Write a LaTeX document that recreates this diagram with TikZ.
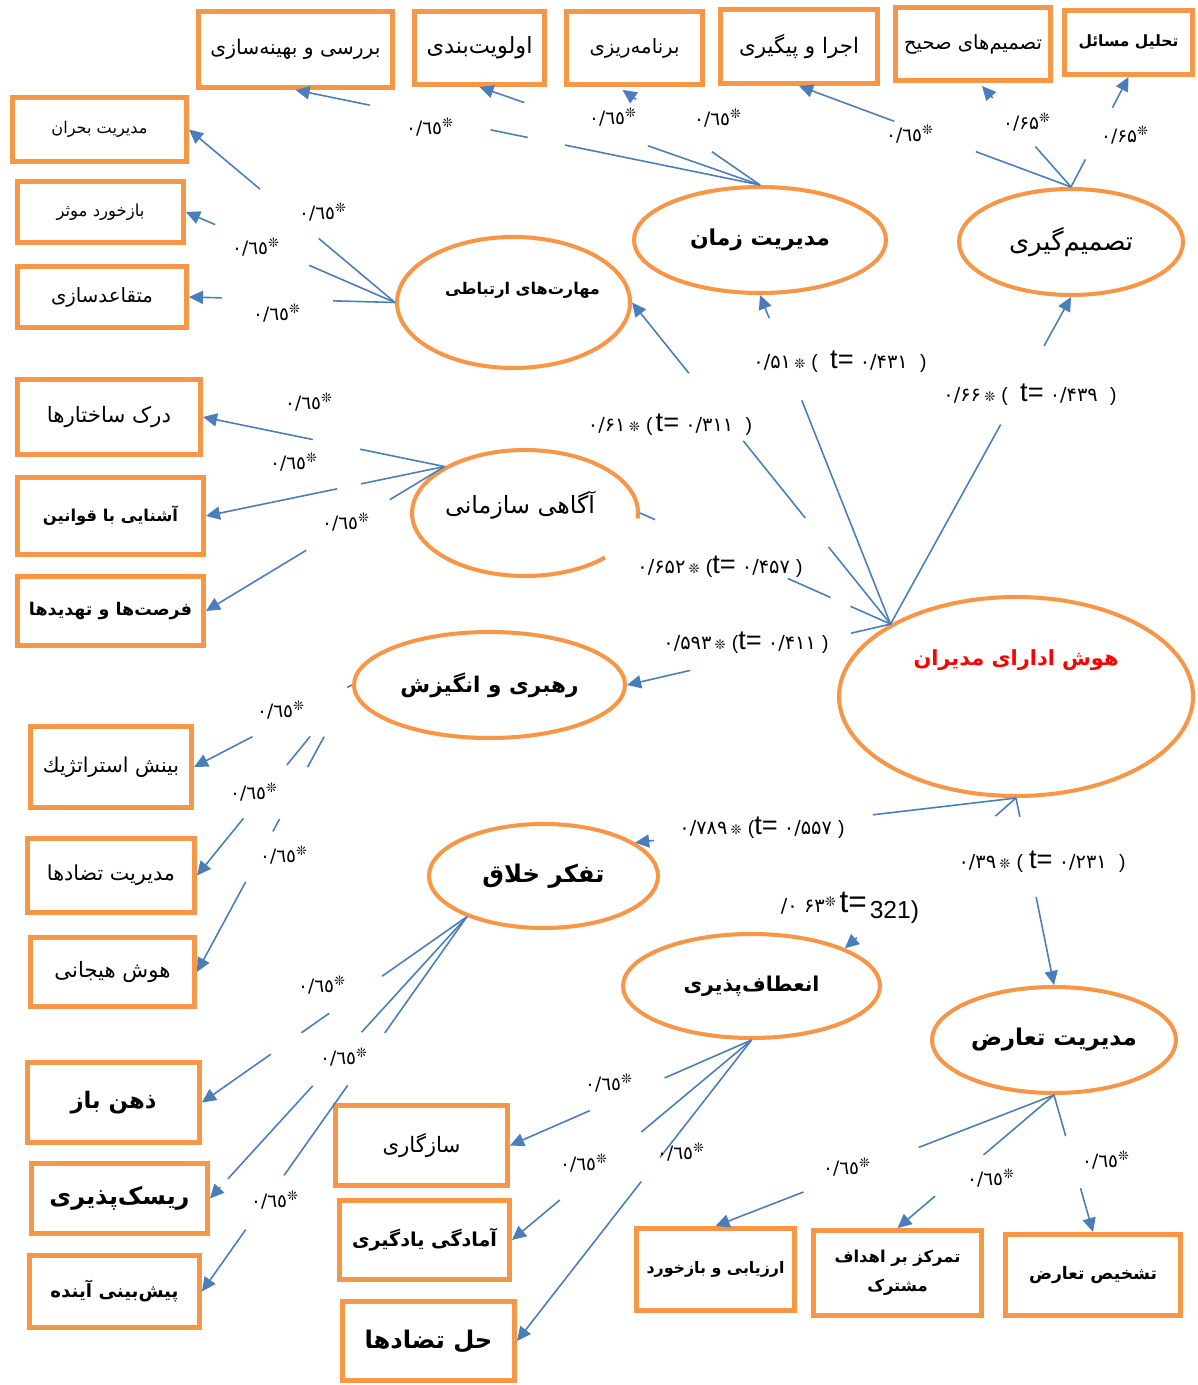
\documentclass[tikz,border=0pt]{standalone}
\usepackage{fontspec}
\usepackage{graphicx}
\usetikzlibrary{shapes.geometric,arrows.meta,calc}
\TeXXeTstate=1
\newfontfamily\arabicfont[Script=Arabic]{DejaVu Sans}
\newfontfamily\latinsans{Liberation Sans}
\definecolor{orng}{RGB}{247,150,70}
\definecolor{lblue}{RGB}{74,126,187}
\newlength\px
\setlength\px{0.02cm}
\newcommand\Fw[2]{\resizebox{#1\px}{!}{\arabicfont\beginR #2\endR}}
\newcommand\Fwb[2]{\resizebox{#1\px}{!}{\arabicfont\bfseries\beginR #2\endR}}
\newcommand\ld[1]{{\arabicfont\fontsize{10.5}{12}\selectfont #1\textsuperscript{❊}}}
\newcommand\dg{\arabicfont\fontsize{11}{12}\selectfont}
\newcommand\Tq{{\latinsans\fontsize{15.5}{16}\selectfont t=}}
\newcommand\Sx{{\arabicfont\fontsize{7.5}{8}\selectfont ❊}}
\newcommand\Lp{{\latinsans\fontsize{11}{12}\selectfont(}}
\newcommand\Rp{{\latinsans\fontsize{11}{12}\selectfont)}}
\newcommand\seg[4]{\draw[ln] ($(#1)!#3!(#2)$) -- ($(#1)!#4!(#2)$);}
\newcommand\aseg[3]{\draw[arr] ($(#1)!#3!(#2)$) -- (#2);}
\begin{document}
\begin{tikzpicture}[x=0.02cm,y=-0.02cm,
 box/.style={draw=orng,line width=2.8pt,inner sep=0pt,rectangle},
 ell/.style={draw=orng,line width=2.3pt,inner sep=0pt,ellipse},
 ln/.style={draw=lblue,line width=0.9pt},
 arr/.style={ln,-{Triangle[length=8pt,width=7.5pt]}},
 lab/.style={inner sep=0pt}]
\fill[white] (0,0) rectangle (1197,1385);
\useasboundingbox (0,0) rectangle (1197,1385);
% top boxes
\node[box,minimum width=194\px,minimum height=76\px] (b1) at (295.5,49.5) {\Fw{170}{بررسی و بهینه^^^^200cسازی}};
\node[box,minimum width=130\px,minimum height=73\px] (b2) at (479.5,48) {\Fw{106}{اولویت^^^^200cبندی}};
\node[box,minimum width=136\px,minimum height=73\px] (b3) at (634.5,48) {\Fw{90}{برنامه^^^^200cریزی}};
\node[box,minimum width=157\px,minimum height=74\px] (b4) at (799,46.5) {\Fw{120}{اجرا و پیگیری}};
\node[box,minimum width=155\px,minimum height=73\px] (b5) at (973,44) {\Fw{138}{تصمیم^^^^200cهای صحیح}};
\node[box,minimum width=128\px,minimum height=64\px] (b6) at (1128.5,42.5) {\Fwb{100}{تحلیل مسائل}};
% left boxes
\node[box,minimum width=174\px,minimum height=64\px] (l1) at (99.5,129.5) {\Fw{96}{مدیریت بحران}};
\node[box,minimum width=166\px,minimum height=61\px] (l2) at (100.5,212) {\Fw{88}{بازخورد موثر}};
\node[box,minimum width=169\px,minimum height=61\px] (l3) at (102,297) {\Fw{102}{متقاعدسازی}};
\node[box,minimum width=183\px,minimum height=75\px] (l4) at (109,417) {\Fw{124}{درک ساختارها}};
\node[box,minimum width=186\px,minimum height=77\px] (l5) at (110.5,516) {\Fwb{135}{آشنایی با قوانین}};
\node[box,minimum width=186\px,minimum height=69\px] (l6) at (110.5,611) {\Fwb{163}{فرصت^^^^200cها و تهدیدها}};
\node[box,minimum width=161\px,minimum height=81\px] (l7) at (111,767) {\Fw{136}{بینش استراتژیك}};
\node[box,minimum width=167\px,minimum height=74\px] (l8) at (111,875.5) {\Fw{128}{مدیریت تضادها}};
\node[box,minimum width=164\px,minimum height=69\px] (l9) at (112.5,972) {\Fw{116}{هوش هیجانی}};
\node[box,minimum width=172\px,minimum height=80\px] (l10) at (113.5,1102.5) {\Fwb{86}{ذهن باز}};
\node[box,minimum width=176\px,minimum height=70\px] (l11) at (119.5,1198.5) {\Fwb{140}{ریسک^^^^200cپذیری}};
\node[box,minimum width=170\px,minimum height=72\px] (l12) at (114.5,1291.5) {\Fwb{128}{پیش^^^^200cبینی آینده}};
% middle bottom boxes
\node[box,minimum width=172\px,minimum height=80\px] (m1) at (421.5,1145.5) {\Fw{78}{سازگاری}};
\node[box,minimum width=170\px,minimum height=79\px] (m2) at (424.5,1240) {\Fwb{145}{آمادگی یادگیری}};
\node[box,minimum width=172\px,minimum height=79\px] (m3) at (428.5,1341) {\Fwb{128}{حل تضادها}};
% right bottom boxes
\node[box,minimum width=158\px,minimum height=82\px] (r1) at (715.5,1269.5) {\Fwb{138}{ارزیابی و بازخورد}};
\node[box,minimum width=168\px,minimum height=85\px] (r2) at (897.5,1273) {\resizebox{126\px}{!}{\arabicfont\bfseries\begin{tabular}{@{}c@{}}\beginR تمرکز بر اهداف\endR\\[6pt]\beginR مشترک\endR\end{tabular}}};
\node[box,minimum width=175\px,minimum height=81\px] (r3) at (1093,1275) {\Fwb{128}{تشخیص تعارض}};
% ellipses
\node[ell,minimum width=252\px,minimum height=106\px] (e1) at (760,240) {\Fwb{140}{مدیریت زمان}};
\node[ell,minimum width=224\px,minimum height=106\px] (e2) at (1071,242) {\Fw{124}{تصمیم^^^^200cگیری}};
\node[ell,minimum width=233\px,minimum height=131\px,label={[xshift=9\px,yshift=12\px]center:\Fwb{155}{مهارت^^^^200cهای ارتباطی}}] (e3) at (513.5,302.5) {};
\node[ell,draw=none,minimum width=226\px,minimum height=126\px,label={[xshift=-5\px,yshift=8\px]center:\Fw{150}{آگاهی سازمانی}}] (e4) at (525,513) {};
\draw[orng,line width=2.3pt] ($(e4.center)+(112.6,5.5)$) arc[start angle=-5,end angle=315,x radius=113\px,y radius=63\px];
\node[ell,minimum width=271\px,minimum height=106\px] (e5) at (489.5,685) {\Fwb{178}{رهبری و انگیزش}};
\node[ell,minimum width=354\px,minimum height=199\px,label={[text=red,yshift=36\px]center:\Fwb{205}{هوش ادارای مدیران}}] (e6) at (1016,696.5) {};
\node[ell,minimum width=229\px,minimum height=104\px] (e7) at (543.5,876) {\Fwb{122}{تفکر خلاق}};
\node[ell,minimum width=257\px,minimum height=104\px] (e8) at (751.5,986) {\Fwb{136}{انعطاف^^^^200cپذیری}};
\node[ell,minimum width=244\px,minimum height=106\px] (e9) at (1054,1040) {\Fwb{166}{مدیریت تعارض}};
% arrow targets
\coordinate (b3t) at ($(b3.south)+(-12,3)$);
\coordinate (b5t) at ($(b5.south)+(9,3)$);
\coordinate (e8t) at (e8.22);
% E1 indicators
\seg{e1.north}{b1.south}{0}{0.42} \seg{e1.north}{b1.south}{0.50}{0.58} \aseg{e1.north}{b1.south}{0.84}
\seg{e1.north}{b2.south}{0}{0.40} \aseg{e1.north}{b2.south}{0.84}
\seg{e1.north}{b3t}{0}{0.35} \aseg{e1.north}{b3t}{0.90}
% E2 indicators
\seg{e2.north}{b4.south}{0}{0.35} \aseg{e2.north}{b4.south}{0.65}
\seg{e2.north}{b5t}{0}{0.40} \aseg{e2.north}{b5t}{0.88}
\seg{e2.north}{b6.south}{0}{0.25} \aseg{e2.north}{b6.south}{0.72}
% E3 indicators
\seg{e3.west}{l1.east}{0}{0.37} \aseg{e3.west}{l1.east}{0.655}
\seg{e3.west}{l2.east}{0}{0.41} \aseg{e3.west}{l2.east}{0.86}
\seg{e3.west}{l3.east}{0}{0.30} \aseg{e3.west}{l3.east}{0.84}
% E4 indicators
\seg{e4.150}{l4.east}{0}{0.35} \aseg{e4.150}{l4.east}{0.545}
\seg{e4.150}{l5.east}{0}{0.35} \aseg{e4.150}{l5.east}{0.45}
\seg{e4.150}{l6.east}{0}{0.23} \aseg{e4.150}{l6.east}{0.58}
% E5 indicators
\seg{e5.west}{l7.east}{0}{0.03} \aseg{e5.west}{l7.east}{0.63}
\seg{e5.west}{l8.east}{0.27}{0.42} \aseg{e5.west}{l8.east}{0.70}
\seg{e5.west}{l9.east}{0.18}{0.286} \seg{e5.west}{l9.east}{0.467}{0.51} \aseg{e5.west}{l9.east}{0.686}
% E7 indicators
\seg{e7.208}{l10.east}{0}{0.32} \seg{e7.208}{l10.east}{0.52}{0.625} \aseg{e7.208}{l10.east}{0.74}
\seg{e7.208}{l11.east}{0}{0.41} \seg{e7.208}{l11.east}{0.60}{0.93} \aseg{e7.208}{l11.east}{0.96}
\seg{e7.208}{l12.east}{0}{0.31} \seg{e7.208}{l12.east}{0.45}{0.69} \aseg{e7.208}{l12.east}{0.835}
% E8 indicators
\seg{e8.south}{m1.east}{0}{0.36} \aseg{e8.south}{m1.east}{0.67}
\seg{e8.south}{m2.east}{0}{0.46} \aseg{e8.south}{m2.east}{0.80}
\seg{e8.south}{m3.east}{0}{0.39} \aseg{e8.south}{m3.east}{0.47}
% E9 indicators
\seg{e9.south}{r1.north}{0}{0.40} \aseg{e9.south}{r1.north}{0.74}
\seg{e9.south}{r2.north}{0}{0.45} \aseg{e9.south}{r2.north}{0.76}
\seg{e9.south}{r3.north}{0}{0.30} \aseg{e9.south}{r3.north}{0.68}
% structural paths
\seg{e6.150}{e1.south}{0}{0.68} \aseg{e6.150}{e1.south}{0.93}
\seg{e6.150}{e3.east}{0}{0.24} \seg{e6.150}{e3.east}{0.33}{0.57} \aseg{e6.150}{e3.east}{0.78}
\seg{e6.150}{e2.south}{0}{0.61} \aseg{e6.150}{e2.south}{0.85}
\seg{e6.150}{e4.east}{0}{0.16} \seg{e6.150}{e4.east}{0.24}{0.41} \seg{e6.150}{e4.east}{0.94}{1}
\seg{e6.150}{e5.east}{0}{0.15} \aseg{e6.150}{e5.east}{0.76}
\seg{e6.south}{e7.20}{0}{0.376} \aseg{e6.south}{e7.20}{0.95}
\seg{e6.south}{e8t}{0}{0.12} \aseg{e6.south}{e8t}{0.93}
\seg{e6.south}{e9.north}{0}{0.1} \aseg{e6.south}{e9.north}{0.53}
% loading labels
\node[lab] (t1) at (430,127) {\ld{٠/٦٥}};
\node[lab] (t2) at (613,117) {\ld{٠/٦٥}};
\node[lab] (t3) at (718,118) {\ld{٠/٦٥}};
\node[lab] (t4) at (910,134) {\ld{٠/٦٥}};
\node[lab] (t5) at (1027,122) {\ld{۰/۶۵}};
\node[lab] (t6) at (1125,135) {\ld{۰/۶۵}};
\node[lab] (c1) at (323,212) {\ld{٠/٦٥}};
\node[lab] (c2) at (256,247) {\ld{٠/٦٥}};
\node[lab] (c3) at (277,313) {\ld{٠/٦٥}};
\node[lab] (a1) at (309,402) {\ld{٠/٦٥}};
\node[lab] (a2) at (294,462) {\ld{٠/٦٥}};
\node[lab] (a3) at (346,522) {\ld{٠/٦٥}};
\node[lab] (h1) at (281,710) {\ld{٠/٦٥}};
\node[lab] (h2) at (254,792) {\ld{٠/٦٥}};
\node[lab] (h3) at (284,855) {\ld{٠/٦٥}};
\node[lab] (k1) at (322,985) {\ld{٠/٦٥}};
\node[lab] (k2) at (344,1057) {\ld{٠/٦٥}};
\node[lab] (k3) at (275,1200) {\ld{٠/٦٥}};
\node[lab] (f1) at (609,1083) {\ld{٠/٦٥}};
\node[lab] (f2) at (584,1163) {\ld{٠/٦٥}};
\node[lab] (f3) at (681,1152) {\ld{٠/٦٥}};
\node[lab] (g1) at (847,1167) {\ld{٠/٦٥}};
\node[lab] (g2) at (991,1178) {\ld{٠/٦٥}};
\node[lab] (g3) at (1106,1160) {\ld{٠/٦٥}};
% path labels
\node[lab] (pe1) at (840,362) {\dg ۰/۵۱\,\Sx\ \Lp\ \ \Tq\ ۰/۴۳۱\ \ \Rp};
\node[lab] (pe2) at (1030,395) {\dg ۰/۶۶\,\Sx\ \Lp\ \ \Tq\ ۰/۴۳۹\ \ \Rp};
\node[lab] (pe3) at (670,425) {\dg ۰/۶۱\,\Sx\ \Lp\,\Tq\ ۰/۳۱۱\ \ \Rp};
\node[lab] (pe4) at (720,567) {\dg ۰/۶۵۲\,\Sx\ \Lp\Tq\ ۰/۴۵۷\ \Rp};
\node[lab] (pe5) at (746,643) {\dg ۰/۵۹۳\,\Sx\ \Lp\Tq\ ۰/۴۱۱\ \Rp};
\node[lab] (pe6) at (762,828) {\dg ۰/۷۸۹\,\Sx\ \Lp\Tq\ ۰/۵۵۷\ \Rp};
\node[lab] (pe7) at (1042,862) {\dg ۰/۳۹\,\Sx\ \Lp\ \Tq\ ۰/۲۳۱\ \ \Rp};
\node[lab] (pe8) at (850,908) {{\dg ۰/ ۶۳}\textsuperscript{\Sx}\,{\latinsans\fontsize{18}{18}\selectfont t=}\,\raisebox{-6\px}{\latinsans\fontsize{14}{15}\selectfont 321)}};
\end{tikzpicture}
\end{document}
